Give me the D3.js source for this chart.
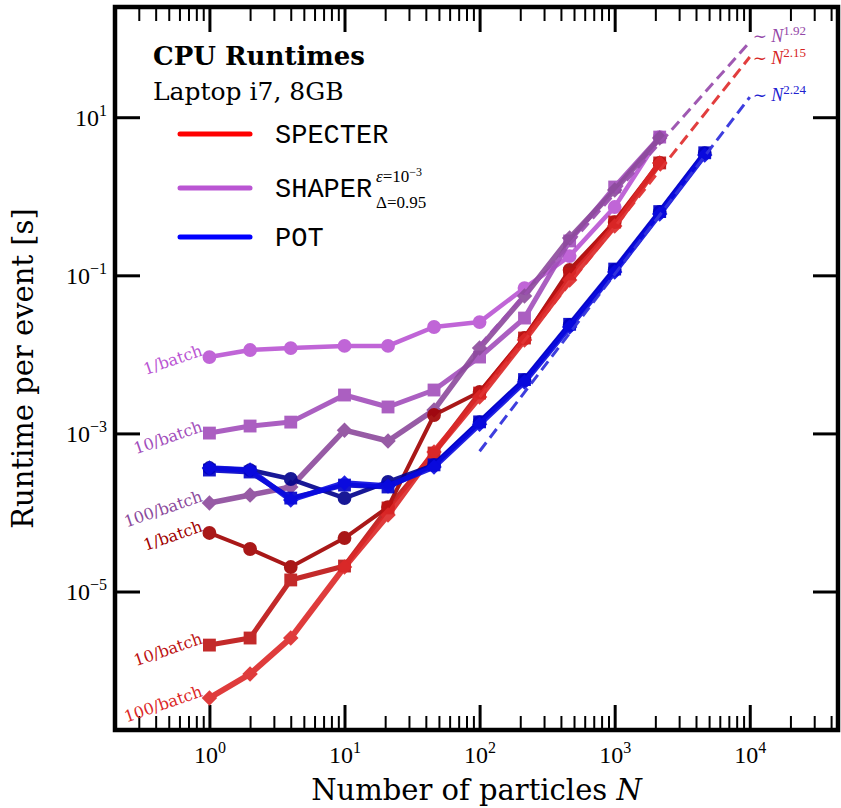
<!DOCTYPE html>
<html>
<head>
<meta charset="utf-8">
<script src="https://cdn.jsdelivr.net/npm/d3@7"></script>
<style>
  html, body { margin: 0; padding: 0; background: #ffffff; }
  svg { display: block; }
</style>
</head>
<body>
<svg id="chart" width="841" height="808"></svg>
<script>
// Number of particles per event
const particleCounts = [1, 2, 4, 10, 21, 46, 100, 215, 464, 1000, 2154];
const particleCountsPOT = [1, 2, 4, 10, 21, 46, 100, 215, 464, 1000, 2154, 4641];

// Runtime per event [s], one array per method and batch size
const shaper1 = [9.25e-3, 1.135e-2, 1.20e-2, 1.28e-2, 1.28e-2, 2.22e-2, 2.56e-2, 6.90e-2, 0.175, 0.731, 5.61];
const shaper10 = [1.01e-3, 1.24e-3, 1.39e-3, 3.06e-3, 2.16e-3, 3.54e-3, 9.25e-3, 2.88e-2, 0.272, 1.31, 5.61];
const shaper100 = [1.32e-4, 1.66e-4, 2.10e-4, 1.10e-3, 8.02e-4, 1.98e-3, 1.20e-2, 5.47e-2, 0.296, 1.20, 5.46];

const specter1 = [5.50e-5, 3.45e-5, 2.04e-5, 4.75e-5, 1.17e-4, 1.71e-3, 3.34e-3, 1.61e-2, 0.117, 0.472, 2.64];
const specter10 = [2.10e-6, 2.58e-6, 1.40e-5, 2.10e-5, 1.14e-4, 5.65e-4, 3.24e-3, 1.61e-2, 0.104, 0.472, 2.64];
const specter100 = [4.50e-7, 9.04e-7, 2.58e-6, 2.04e-5, 9.29e-5, 5.82e-4, 2.88e-3, 1.52e-2, 8.71e-2, 0.421, 2.64];

const pot1 = [3.65e-4, 3.44e-4, 2.65e-4, 1.52e-4, 2.43e-4, 3.98e-4, 1.39e-3, 4.73e-3, 2.35e-2, 0.117, 0.632, 3.52];
const pot10 = [3.44e-4, 3.25e-4, 1.52e-4, 2.22e-4, 2.10e-4, 4.00e-4, 1.40e-3, 4.80e-3, 2.40e-2, 0.120, 0.640, 3.55];
const pot100 = [3.65e-4, 3.44e-4, 1.44e-4, 2.36e-4, 2.16e-4, 3.76e-4, 1.31e-3, 4.47e-3, 2.22e-2, 0.110, 0.596, 3.33];

// Power-law fits  t = A * N^p  (SHAPER, SPECTER, POT)
const fitExponents = [1.92, 2.15, 2.24];
const fitPrefactors = [1.87e-6, 1.45e-7, 1.97e-8];
const fitRange = [100, 10000];

// Axis ticks and text
const xMajorTicks = [1, 10, 100, 1000, 10000];
const xTickExponents = ["0", "1", "2", "3", "4"];
const yMajorTicks = [10, 0.1, 1e-3, 1e-5];
const yTickExponents = ["1", "\u22121", "\u22123", "\u22125"];
const batchLabels = ["1/batch", "10/batch", "100/batch"];
const legendNames = ["SPECTER", "SHAPER", "POT"];

// ---------------------------------------------------------------
const svg = d3.select("#chart");
const plot = { left: 115, right: 838, top: 7, bottom: 730 };

const x = d3.scaleLog().domain([0.2, 45000]).range([plot.left, plot.right]);
const y = d3.scaleLog().domain([1.77e-7, 248]).range([plot.bottom, plot.top]);

const serif = "'DejaVu Serif', serif";
const tickFont = "'Liberation Serif', 'DejaVu Serif', serif";
const mono = "'Courier New', 'Liberation Mono', 'Nimbus Mono PS', 'FreeMono', monospace";

// minor ticks 2..9 per decade inside the x domain
const xMinorTicks = [];
for (let e = -1; e <= 4; e++) {
  for (let k = 2; k <= 9; k++) {
    const v = k * Math.pow(10, e);
    if (v > x.domain()[0] && v < x.domain()[1]) xMinorTicks.push(v);
  }
}

function styleTicks(g, width) {
  g.select(".domain").remove();
  g.selectAll(".tick line").attr("stroke", "#000").attr("stroke-width", width);
}

// bottom axis
const gxMinor = svg.append("g").attr("transform", `translate(0,${plot.bottom})`)
  .call(d3.axisBottom(x).tickValues(xMinorTicks).tickSize(-14).tickFormat(() => ""));
styleTicks(gxMinor, 2);
const gx = svg.append("g").attr("transform", `translate(0,${plot.bottom})`)
  .call(d3.axisBottom(x).tickValues(xMajorTicks).tickSize(-25).tickFormat(() => ""));
styleTicks(gx, 3);
gx.selectAll(".tick text").each(function (d, i) {
  const t = d3.select(this)
    .attr("y", 33).attr("dy", 0)
    .attr("text-anchor", "middle")
    .attr("fill", "#000")
    .style("font-family", tickFont);
  t.text(null);
  t.append("tspan").style("font-size", "24px").text("10");
  t.append("tspan").style("font-size", "16px").attr("dy", -10).text(xTickExponents[i]);
});

// top axis (ticks only)
const gtMinor = svg.append("g").attr("transform", `translate(0,${plot.top})`)
  .call(d3.axisTop(x).tickValues(xMinorTicks).tickSize(-14).tickFormat(() => ""));
styleTicks(gtMinor, 2);
const gt = svg.append("g").attr("transform", `translate(0,${plot.top})`)
  .call(d3.axisTop(x).tickValues(xMajorTicks).tickSize(-25).tickFormat(() => ""));
styleTicks(gt, 3);

// left axis
const gy = svg.append("g").attr("transform", `translate(${plot.left},0)`)
  .call(d3.axisLeft(y).tickValues(yMajorTicks).tickSize(-25).tickFormat(() => ""));
styleTicks(gy, 3);
gy.selectAll(".tick text").each(function (d, i) {
  const t = d3.select(this)
    .attr("x", -8).attr("dy", 8)
    .attr("text-anchor", "end")
    .attr("fill", "#000")
    .style("font-family", tickFont);
  t.text(null);
  t.append("tspan").style("font-size", "24px").text("10");
  t.append("tspan").style("font-size", "16px").attr("dy", -10).text(yTickExponents[i]);
});

// right axis (ticks only)
const gr = svg.append("g").attr("transform", `translate(${plot.right},0)`)
  .call(d3.axisRight(y).tickValues(yMajorTicks).tickSize(-25).tickFormat(() => ""));
styleTicks(gr, 3);

// axis titles
svg.append("text")
  .attr("x", (plot.left + plot.right) / 2).attr("y", 800)
  .attr("text-anchor", "middle")
  .style("font-family", serif).style("font-size", "29px")
  .call(t => {
    t.append("tspan").text("Number of particles ");
    t.append("tspan").style("font-style", "italic").text("N");
  });
svg.append("text")
  .attr("transform", `translate(33,${(plot.top + plot.bottom) / 2}) rotate(-90)`)
  .attr("text-anchor", "middle")
  .style("font-family", serif).style("font-size", "29px")
  .text("Runtime per event [s]");

// ---------------------------------------------------------------
// series
const series = [
  { n: particleCounts, v: shaper1, color: "#ba55d3", marker: "circle", w: 4.5, label: 0 },
  { n: particleCounts, v: shaper10, color: "#a24ebb", marker: "square", w: 5, label: 1 },
  { n: particleCounts, v: shaper100, color: "#8c4a9c", marker: "diamond", w: 5.5, label: 2 },
  { n: particleCounts, v: specter1, color: "#a00000", marker: "circle", w: 4, label: 0 },
  { n: particleCounts, v: specter10, color: "#bd1313", marker: "square", w: 5, label: 1 },
  { n: particleCounts, v: specter100, color: "#dc2828", marker: "diamond", w: 6, label: 2 },
  { n: particleCountsPOT, v: pot1, color: "#00008b", marker: "circle", w: 4.5, label: null },
  { n: particleCountsPOT, v: pot10, color: "#0000c8", marker: "square", w: 5, label: null },
  { n: particleCountsPOT, v: pot100, color: "#0a0ae0", marker: "diamond", w: 5.5, label: null }
];

const line = d3.line().x(d => x(d[0])).y(d => y(d[1]));
const symbols = {
  circle: d3.symbol().type(d3.symbolCircle).size(150)(),
  square: d3.symbol().type(d3.symbolSquare).size(165)(),
  diamond: d3.symbol().type(d3.symbolSquare).size(120)()
};

series.forEach(s => {
  const pts = s.n.map((n, i) => [n, s.v[i]]);
  const g = svg.append("g").attr("opacity", 0.9);
  g.append("path")
    .attr("d", line(pts))
    .attr("fill", "none")
    .attr("stroke", s.color)
    .attr("stroke-width", s.w)
    .attr("stroke-linejoin", "round");
  g.selectAll("path.mark").data(pts).join("path")
    .attr("class", "mark")
    .attr("d", symbols[s.marker])
    .attr("fill", s.color)
    .attr("transform", d => `translate(${x(d[0])},${y(d[1])})` + (s.marker === "diamond" ? " rotate(45)" : ""));
  if (s.label !== null) {
    svg.append("text")
      .attr("transform", `translate(${x(pts[0][0]) - 6},${y(pts[0][1]) - 2}) rotate(-19)`)
      .attr("text-anchor", "end")
      .attr("fill", s.color)
      .style("font-family", serif).style("font-size", "16px")
      .text(batchLabels[s.label]);
  }
});

// power-law fits
const fitColors = ["#9a50ae", "#e03434", "#3434dc"];
const fitLabelColors = ["#9447a8", "#d62424", "#2020d0"];
const fitLabelShift = [0, 7, 4];
[0, 1, 2].forEach(k => {
  const f = n => fitPrefactors[k] * Math.pow(n, fitExponents[k]);
  const pts = fitRange.map(n => [n, f(n)]);
  svg.append("path")
    .attr("d", line(pts))
    .attr("fill", "none")
    .attr("stroke", fitColors[k])
    .attr("stroke-width", 3)
    .attr("stroke-dasharray", "11,6")
    .attr("opacity", 0.95);
  const end = pts[1];
  svg.append("text")
    .attr("x", x(end[0]) + 3).attr("y", y(end[1]) + fitLabelShift[k])
    .attr("fill", fitLabelColors[k])
    .style("font-family", tickFont)
    .call(t => {
      t.append("tspan").style("font-size", "17px").text("\u223C ");
      t.append("tspan").style("font-size", "18px").style("font-style", "italic").text("N");
      t.append("tspan").style("font-size", "13px").attr("dy", -7).text(fitExponents[k].toFixed(2));
    });
});

// ---------------------------------------------------------------
// legend
svg.append("text").attr("x", 153).attr("y", 65)
  .style("font-family", serif).style("font-size", "26px").style("font-weight", "bold")
  .text("CPU Runtimes");
svg.append("text").attr("x", 153).attr("y", 100)
  .style("font-family", serif).style("font-size", "25px")
  .text("Laptop i7, 8GB");

const legendColors = ["#ff0000", "#ba55d3", "#0000ff"];
const legendY = [134, 188, 237];
legendNames.forEach((name, i) => {
  svg.append("line")
    .attr("x1", 180).attr("x2", 250)
    .attr("y1", legendY[i]).attr("y2", legendY[i])
    .attr("stroke", legendColors[i]).attr("stroke-width", 5)
    .attr("stroke-linecap", "round");
  svg.append("text").attr("x", 275).attr("y", legendY[i] + 9)
    .style("font-family", mono).style("font-size", "27px")
    .text(name);
  if (name === "SHAPER") {
    const sx = 376;
    const sup = svg.append("text").attr("x", sx).attr("y", legendY[i] - 6)
      .style("font-family", tickFont).style("font-size", "17px");
    sup.append("tspan").style("font-style", "italic").text("\u03B5");
    sup.append("tspan").text("=10");
    sup.append("tspan").style("font-size", "12px").attr("dy", -6).text("\u22123");
    svg.append("text").attr("x", sx).attr("y", legendY[i] + 20)
      .style("font-family", tickFont).style("font-size", "17px")
      .text("\u0394=0.95");
  }
});

// frame
svg.append("rect")
  .attr("x", plot.left).attr("y", plot.top)
  .attr("width", plot.right - plot.left).attr("height", plot.bottom - plot.top)
  .attr("fill", "none").attr("stroke", "#000").attr("stroke-width", 4.5);
</script>
</body>
</html>
